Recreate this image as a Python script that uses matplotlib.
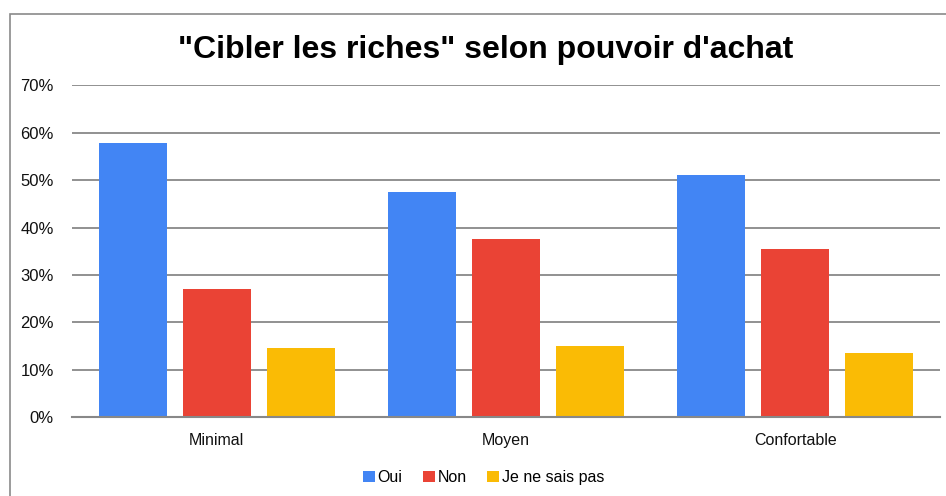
import numpy as np
import matplotlib.pyplot as plt
from matplotlib.patches import Rectangle
from matplotlib.ticker import PercentFormatter

plt.rcParams['font.family'] = ['Liberation Sans', 'DejaVu Sans']

# Survey shares by purchasing power level
categories = ["Minimal", "Moyen", "Confortable"]
series_names = ["Oui", "Non", "Je ne sais pas"]
oui = [57.8, 47.4, 51.1]
non = [27.1, 37.5, 35.4]
nsp = [14.7, 15.0, 13.6]
colors = ["#4285F4", "#EA4335", "#FABB05"]

fig = plt.figure(figsize=(9.46, 4.96), dpi=100)
ax = fig.add_axes([0.0761, 0.1583, 0.9176, 0.6703])

x = np.arange(len(categories))
step = 0.29
width = 0.235
for i, (vals, name, col) in enumerate(zip([oui, non, nsp], series_names, colors)):
    ax.bar(x + (i - 1) * step, np.array(vals) / 100, width, color=col,
           label=name, zorder=3)

ax.set_xlim(-0.5, 2.5)
ax.set_ylim(0, 0.7)
ax.set_yticks(np.arange(0, 0.71, 0.1))
ax.yaxis.set_major_formatter(PercentFormatter(1.0, decimals=0))
ax.set_xticks(x)
ax.set_xticklabels(categories)

ax.grid(axis='y', color='#888888', linewidth=1.3, zorder=0)
for side in ['top', 'right', 'left']:
    ax.spines[side].set_visible(False)
ax.spines['bottom'].set_color('#888888')
ax.spines['bottom'].set_linewidth(1.5)
ax.spines['bottom'].set_zorder(4)
ax.tick_params(axis='y', length=0, pad=13, labelsize=12, labelcolor='#111111')
ax.tick_params(axis='x', length=0, pad=11, labelsize=11.5, labelcolor='#111111')

fig.text(0.513, 0.899, "\"Cibler les riches\" selon pouvoir d'achat",
         ha='center', va='center', fontsize=23, fontweight='bold')

fig.legend(loc='center', bbox_to_anchor=(0.511, 0.037), ncol=3, frameon=False,
           fontsize=11.5, handlelength=0.75, handleheight=0.75,
           handletextpad=0.15, columnspacing=1.3)

# outer frame around the chart
fig.patches.append(Rectangle((9.5 / 946, -0.1), 1.2, 1 - 13.5 / 496 + 0.1,
                             transform=fig.transFigure, fill=False,
                             edgecolor='#8a8a8a', linewidth=1.2))

fig.savefig("out.png", dpi=100)
